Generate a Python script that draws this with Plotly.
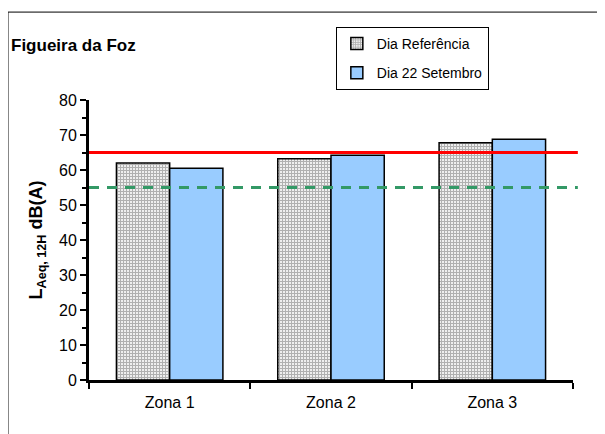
import plotly.graph_objects as go

categories = ["Zona 1", "Zona 2", "Zona 3"]
dia_referencia = [62.0, 63.2, 67.8]
dia_22_setembro = [60.5, 64.2, 68.8]
limit_red = 65
limit_green = 55
series_names = ["Dia Referência", "Dia 22 Setembro"]
chart_title = "Figueira da Foz"
y_title = "L<sub>Aeq, 12H</sub> dB(A)"

FONT = "Liberation Sans, Arial, sans-serif"

fig = go.Figure()
fig.add_trace(go.Bar(
    x=categories, y=dia_referencia, name=series_names[0],
    legendgroup="a",
    marker=dict(color="white",
                pattern=dict(shape="+", size=3, solidity=0.6, fgcolor="#6e6e6e", bgcolor="#f2f2f2"),
                line=dict(color="black", width=1.5)),
))
fig.add_trace(go.Bar(
    x=categories, y=dia_22_setembro, name=series_names[1],
    legendgroup="b",
    marker=dict(color="#99CCFF", line=dict(color="black", width=1.5)),
))

# reference lines
fig.add_shape(type="line", xref="paper", yref="y", x0=0, x1=1.01, y0=limit_red, y1=limit_red,
              line=dict(color="#FF0000", width=3), layer="above")
fig.add_shape(type="line", xref="paper", yref="y", x0=0, x1=1.01, y0=limit_green, y1=limit_green,
              line=dict(color="#339966", width=3, dash="10px,8px"), layer="above")

# outer frame
fig.add_shape(type="rect", xref="paper", yref="paper", x0=-0.1674, x1=1.2, y0=-0.3, y1=1.314,
              line=dict(color="black", width=1), fillcolor="rgba(0,0,0,0)", layer="below")

fig.add_annotation(text="<b>" + chart_title + "</b>", xref="paper", yref="paper",
                   x=-0.165, y=1.196, xanchor="left", yanchor="middle", showarrow=False,
                   font=dict(family=FONT, size=17, color="black"))

fig.update_layout(
    width=597, height=426,
    margin=dict(l=81, r=32, t=92, b=54),
    paper_bgcolor="white", plot_bgcolor="white",
    barmode="group", bargap=0.34, bargroupgap=0,
    font=dict(family=FONT, size=14, color="black"),
    showlegend=True,
    legend=dict(x=0.51, y=1.261, xanchor="left", yanchor="top",
                bordercolor="black", borderwidth=1, bgcolor="white",
                font=dict(family=FONT, size=14, color="black"),
                traceorder="grouped", tracegroupgap=8,
                itemclick=False),
    xaxis=dict(showline=True, linecolor="black", linewidth=3,
               ticks="outside", tickson="boundaries", ticklen=6, tickwidth=2, tickcolor="black",
               ticklabelstandoff=6,
               showgrid=False, zeroline=False, tickfont=dict(size=16), fixedrange=True),
    yaxis=dict(range=[0, 80], dtick=10, showline=True, linecolor="black", linewidth=3,
               ticks="outside", ticklen=6, tickwidth=2, tickcolor="black",
               minor=dict(dtick=5, ticks="outside", ticklen=4, tickwidth=2, tickcolor="black"),
               showgrid=False, zeroline=False, tickfont=dict(size=16),
               title=dict(text="<b>" + y_title + "</b>", font=dict(size=18), standoff=12),
               fixedrange=True),
)

fig.write_html("out.html")
